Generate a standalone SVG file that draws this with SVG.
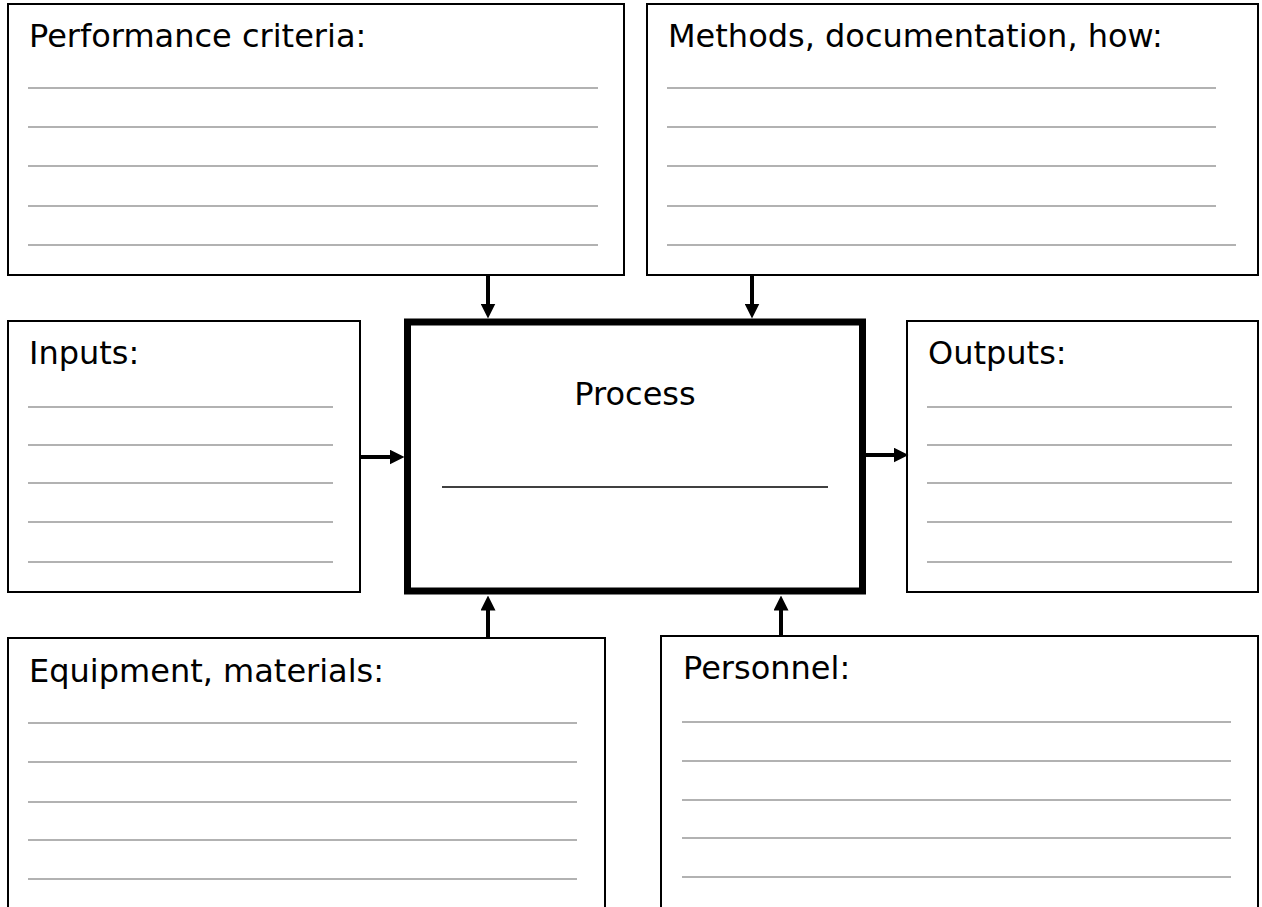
<svg xmlns="http://www.w3.org/2000/svg" width="1262" height="907" viewBox="0 0 1262 907">
<style>
.box{fill:#fff;stroke:#000;stroke-width:2}
.proc{fill:#fff;stroke:#000;stroke-width:7}
.lbl{font-family:"DejaVu Sans",Verdana,sans-serif;font-size:32px;fill:#000}
.rule{stroke:#999;stroke-width:1.6}
.conn{stroke:#000;stroke-width:4;fill:none}
</style>
<defs>
<marker id="ah" viewBox="0 0 10 10" refX="1" refY="5" markerWidth="15" markerHeight="15" markerUnits="userSpaceOnUse" orient="auto">
<path d="M0,0 L10,5 L0,10 z" fill="#000"/>
</marker>
</defs>
<rect width="1262" height="907" fill="#fff"/>

<g id="performance">
<rect class="box" x="8" y="4" width="616" height="271"/>
<text class="lbl" x="29" y="47">Performance criteria:</text>
<g class="rule">
<line x1="28" y1="88" x2="598" y2="88"/>
<line x1="28" y1="127" x2="598" y2="127"/>
<line x1="28" y1="166" x2="598" y2="166"/>
<line x1="28" y1="206" x2="598" y2="206"/>
<line x1="28" y1="245" x2="598" y2="245"/>
</g>
</g>

<g id="methods">
<rect class="box" x="647" y="4" width="611" height="271"/>
<text class="lbl" x="668" y="47">Methods, documentation, how:</text>
<g class="rule">
<line x1="667" y1="88" x2="1216" y2="88"/>
<line x1="667" y1="127" x2="1216" y2="127"/>
<line x1="667" y1="166" x2="1216" y2="166"/>
<line x1="667" y1="206" x2="1216" y2="206"/>
<line x1="667" y1="245" x2="1236" y2="245"/>
</g>
</g>

<g id="inputs">
<rect class="box" x="8" y="321" width="352" height="271"/>
<text class="lbl" x="29" y="364">Inputs:</text>
<g class="rule">
<line x1="28" y1="407" x2="333" y2="407"/>
<line x1="28" y1="445" x2="333" y2="445"/>
<line x1="28" y1="483" x2="333" y2="483"/>
<line x1="28" y1="522" x2="333" y2="522"/>
<line x1="28" y1="562" x2="333" y2="562"/>
</g>
</g>

<g id="process">
<rect class="proc" x="407.5" y="322" width="455" height="269"/>
<text class="lbl" x="635" y="405" text-anchor="middle">Process</text>
<line x1="442" y1="487" x2="828" y2="487" stroke="#000" stroke-width="1.4"/>
</g>

<g id="outputs">
<rect class="box" x="907" y="321" width="351" height="271"/>
<text class="lbl" x="928" y="364">Outputs:</text>
<g class="rule">
<line x1="927" y1="407" x2="1232" y2="407"/>
<line x1="927" y1="445" x2="1232" y2="445"/>
<line x1="927" y1="483" x2="1232" y2="483"/>
<line x1="927" y1="522" x2="1232" y2="522"/>
<line x1="927" y1="562" x2="1232" y2="562"/>
</g>
</g>

<g id="equipment">
<rect class="box" x="8" y="638" width="597" height="280"/>
<text class="lbl" x="29" y="682">Equipment, materials:</text>
<g class="rule">
<line x1="28" y1="723" x2="577" y2="723"/>
<line x1="28" y1="762" x2="577" y2="762"/>
<line x1="28" y1="802" x2="577" y2="802"/>
<line x1="28" y1="840" x2="577" y2="840"/>
<line x1="28" y1="879" x2="577" y2="879"/>
</g>
</g>

<g id="personnel">
<rect class="box" x="661" y="636" width="597" height="282"/>
<text class="lbl" x="683" y="679">Personnel:</text>
<g class="rule">
<line x1="682" y1="722" x2="1231" y2="722"/>
<line x1="682" y1="761" x2="1231" y2="761"/>
<line x1="682" y1="800" x2="1231" y2="800"/>
<line x1="682" y1="838" x2="1231" y2="838"/>
<line x1="682" y1="877" x2="1231" y2="877"/>
</g>
</g>

<g id="connectors" class="conn">
<line x1="488" y1="275" x2="488" y2="305" marker-end="url(#ah)"/>
<line x1="752" y1="275" x2="752" y2="305" marker-end="url(#ah)"/>
<line x1="360" y1="457" x2="391" y2="457" marker-end="url(#ah)"/>
<line x1="866" y1="455" x2="895" y2="455" marker-end="url(#ah)"/>
<line x1="488" y1="638" x2="488" y2="609" marker-end="url(#ah)"/>
<line x1="781" y1="636" x2="781" y2="609" marker-end="url(#ah)"/>
</g>
</svg>
